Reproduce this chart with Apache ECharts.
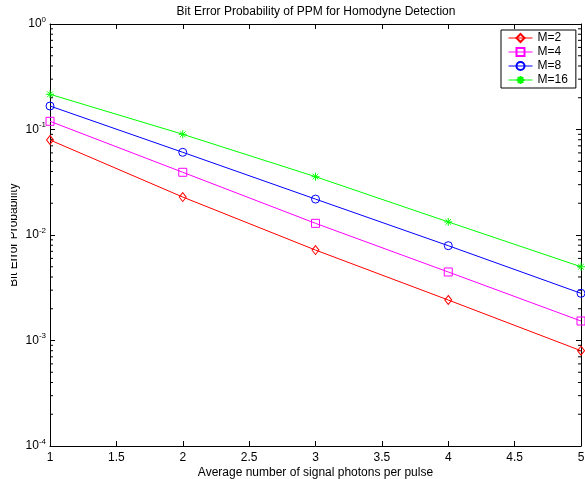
<!DOCTYPE html>
<html>
<head>
<meta charset="utf-8">
<script src="https://cdn.jsdelivr.net/npm/echarts@6/dist/echarts.min.js"></script>
<style>html,body{margin:0;padding:0;background:#fff;}#c{width:585px;height:479px;}</style>
</head>
<body>
<div id="c"></div>
<script>
// ---- data ----
var xValues = [1, 2, 3, 4, 5];
var seriesNames = ['M=2', 'M=4', 'M=8', 'M=16'];
var pM2  = [0.0795, 0.0229, 0.0072, 0.00242, 0.00080];
var pM4  = [0.1196, 0.0393, 0.0129, 0.00446, 0.00153];
var pM8  = [0.167, 0.0608, 0.0219, 0.00792, 0.0028];
var pM16 = [0.2157, 0.0901, 0.0357, 0.0133, 0.0050];
var xTickLabels = ['1', '1.5', '2', '2.5', '3', '3.5', '4', '4.5', '5'];
var yDecades = [-4, -3, -2, -1, 0];
var minorMultipliers = [2, 3, 4, 5, 6, 7, 8, 9];

var FONT = 'Liberation Sans, Arial, sans-serif';
var colors = ['#ff0000', '#ff00ff', '#0000ff', '#00ff00'];
var symbols = ['diamond', 'rect', 'circle',
  'path://M5,0L5,10M0,5L10,5M1.5,1.5L8.5,8.5M1.5,8.5L8.5,1.5'];
var symSizes = [[7, 9], 8, 8, 8];
var allData = [pM2, pM4, pM8, pM16];

function pairs(arr) { return xValues.map(function (x, i) { return [x, arr[i]]; }); }

var minorTickData = [];
yDecades.slice(0, -1).forEach(function (d) {
  minorMultipliers.forEach(function (m) { minorTickData.push([1, m * Math.pow(10, d)]); });
});

var series = seriesNames.map(function (n, i) {
  return {
    name: n, type: 'line', data: pairs(allData[i]),
    symbol: symbols[i], symbolSize: symSizes[i], showAllSymbol: true,
    lineStyle: { color: colors[i], width: 1 },
    itemStyle: { color: 'rgba(255,255,255,0)', borderColor: colors[i], borderWidth: 1 },
    emphasis: { disabled: true }, animation: false, z: 3
  };
});
series.push({
  type: 'custom', data: minorTickData, silent: true, clip: false, animation: false,
  renderItem: function (params, api) {
    var v = api.value(1);
    var pl = api.coord([1, v]), pr = api.coord([5, v]);
    return { type: 'group', children: [
      { type: 'line', shape: { x1: pl[0], y1: pl[1], x2: pl[0] + 3, y2: pl[1] }, style: { stroke: '#000', lineWidth: 1 } },
      { type: 'line', shape: { x1: pr[0], y1: pr[1], x2: pr[0] - 3, y2: pr[1] }, style: { stroke: '#000', lineWidth: 1 } }
    ] };
  },
  encode: { x: 0, y: 1 }
});

var yLabelRich = {
  b: { fontSize: 12, fontFamily: FONT, color: '#000' },
  s: { fontSize: 8, fontFamily: FONT, color: '#000', padding: [0, 0, 9, 0] }
};
function yFmt(v) {
  var e = Math.round(Math.log10(v));
  return '{b|10}{s|' + e + '}';
}

var chart = echarts.init(document.getElementById('c'), null, { renderer: 'canvas' });
chart.setOption({
  backgroundColor: '#fff',
  animation: false,
  title: {
    text: 'Bit Error Probability of PPM for Homodyne Detection',
    left: 316, textAlign: 'center', top: 6, padding: 0,
    textStyle: { fontSize: 12, fontWeight: 'normal', fontFamily: FONT, color: '#000' }
  },
  legend: {
    data: seriesNames, orient: 'vertical', left: 501, top: 30,
    backgroundColor: '#fff', borderColor: '#000', borderWidth: 1, padding: [2, 8, 2, 7],
    itemWidth: 24, itemHeight: 10, itemGap: 2,
    lineStyle: { width: 1 },
    textStyle: { fontSize: 12, fontFamily: FONT, color: '#000' }
  },
  grid: { left: 50, right: 4, top: 24, bottom: 33, containLabel: false, outerBoundsMode: 'none' },
  xAxis: [{
    type: 'value', min: 1, max: 5, interval: 0.5,
    name: 'Average number of signal photons per pulse', nameLocation: 'middle', nameGap: 21,
    nameMoveOverlap: false,
    nameTextStyle: { fontSize: 12, fontFamily: FONT, color: '#000' },
    axisLine: { lineStyle: { color: '#000', width: 1 } },
    axisTick: { inside: true, length: 5, lineStyle: { color: '#000' } },
    axisLabel: { fontSize: 12, fontFamily: FONT, color: '#000', margin: 6,
      formatter: function (v) { return xTickLabels[Math.round((v - 1) / 0.5)]; } },
    splitLine: { show: false }
  }, {
    type: 'value', min: 1, max: 5, interval: 0.5, position: 'top',
    axisLine: { lineStyle: { color: '#000', width: 1 } },
    axisTick: { inside: true, length: 5, lineStyle: { color: '#000' } },
    axisLabel: { show: false }, splitLine: { show: false }
  }],
  yAxis: [{
    type: 'log', logBase: 10, min: 1e-4, max: 1,
    name: 'Bit Error Probability', nameLocation: 'middle', nameGap: 30,
    nameMoveOverlap: false,
    nameTextStyle: { fontSize: 12, fontFamily: FONT, color: '#000' },
    axisLine: { lineStyle: { color: '#000', width: 1 } },
    axisTick: { inside: true, length: 5, lineStyle: { color: '#000' } },
    axisLabel: { formatter: yFmt, rich: yLabelRich, margin: 4 },
    splitLine: { show: false }
  }, {
    type: 'log', logBase: 10, min: 1e-4, max: 1, position: 'right',
    axisLine: { lineStyle: { color: '#000', width: 1 } },
    axisTick: { inside: true, length: 5, lineStyle: { color: '#000' } },
    axisLabel: { show: false }, splitLine: { show: false }
  }],
  graphic: [{ type: 'rect', shape: { x: 0, y: 120, width: 11, height: 230 }, style: { fill: '#fff' }, z: 100 }],
  series: series
});
</script>
</body>
</html>
